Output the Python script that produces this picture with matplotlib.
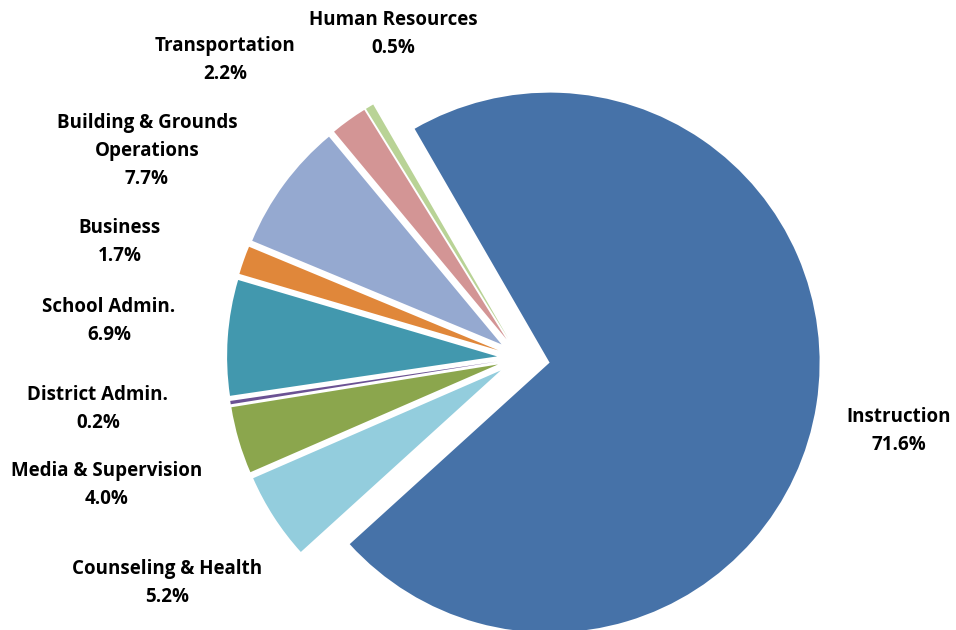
import matplotlib.pyplot as plt

# spending share by function (percent)
categories = ["Instruction", "Counseling & Health", "Media & Supervision",
              "District Admin.", "School Admin.", "Business",
              "Building & Grounds\nOperations", "Transportation",
              "Human Resources"]
shares = [71.6, 5.2, 4.0, 0.2, 6.9, 1.7, 7.7, 2.2, 0.5]
colors = ["#4672A8", "#93CDDD", "#8BA64D", "#6B5294", "#4298AE",
          "#E0873A", "#95A9D0", "#D39595", "#B9D396"]
explode_frac = [0.111, 0.085, 0.085, 0.085, 0.085, 0.085, 0.085, 0.085, 0.085]

# label anchor points in pixels (x from left, y from top)
label_xy = [(899, 431), (167, 583), (107, 485), (98, 409), (109, 321),
            (120, 242), (147, 151), (225, 60), (393, 34)]

W, H = 956, 630
R = 270
fig = plt.figure(figsize=(W / 100, H / 100), dpi=100)
ax = fig.add_axes([0, 0, 1, 1])

# pie() takes explode offsets in data units, so scale by the radius
ax.pie(shares, colors=colors, explode=[e * R for e in explode_frac],
       startangle=120, counterclock=False, radius=R, center=(520, H - 358),
       wedgeprops=dict(linewidth=0))
ax.set_xlim(0, W)
ax.set_ylim(0, H)
ax.axis("off")

for name, val, (x, y) in zip(categories, shares, label_xy):
    ax.text(x, H - y, f"{name}\n{val:.1f}%", ha="center", va="center",
            fontsize=13.5, fontweight="bold", family="Open Sans",
            linespacing=1.52, color="black")

plt.savefig("out.png", dpi=100)
